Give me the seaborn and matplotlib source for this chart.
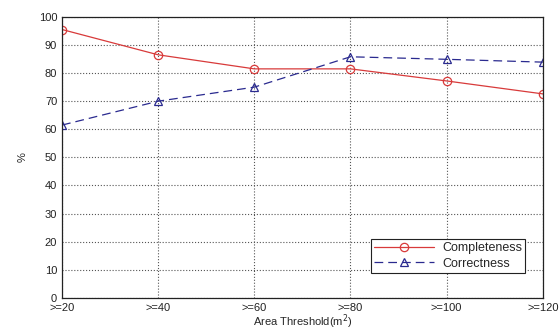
import numpy as np
import pandas as pd
import seaborn as sns
import matplotlib.pyplot as plt

categories = ['>=20', '>=40', '>=60', '>=80', '>=100', '>=120']
completeness = [95.5, 86.5, 81.5, 81.5, 77.2, 72.6]
correctness = [61.5, 70.0, 75.0, 85.8, 84.9, 83.9]

idx = list(range(len(categories)))

sns.set_style('white')
plt.rcParams['font.family'] = ['Liberation Sans', 'DejaVu Sans']

fig = plt.figure(figsize=(5.59, 3.31), dpi=100)
ax = fig.add_axes([0.111, 0.10, 0.86, 0.849])

red = '#d83a3a'
blue = '#2a2a8f'
sns.lineplot(x=idx, y=completeness, color=red, linewidth=0.9, label='Completeness', ax=ax)
sns.lineplot(x=idx, y=correctness, color=blue, linewidth=0.9, label='Correctness', ax=ax)

# MATLAB style open markers
l1, l2 = ax.lines[0], ax.lines[1]
l1.set_marker('o')
l2.set_marker('^')
l2.set_dashes((7, 4))
for ln, c in ((l1, red), (l2, blue)):
    ln.set_markersize(6)
    ln.set_markerfacecolor('none')
    ln.set_markeredgecolor(c)
    ln.set_markeredgewidth(0.9)

ax.set_xlim(0, len(categories) - 1)
ax.set_ylim(0, 100)
ax.set_xticks(idx)
ax.set_xticklabels(categories)
ax.set_yticks(range(0, 101, 10))
ax.tick_params(labelsize=8, direction='in', length=3, colors='#222222')
ax.grid(True, linestyle=':', color='#555555', linewidth=0.8)
for s in ax.spines.values():
    s.set_color('#222222')
    s.set_linewidth(0.9)

ax.set_xlabel('Area Threshold(m$^2$)', fontsize=8, labelpad=0)
ax.set_ylabel('%', fontsize=8, labelpad=8)

leg = ax.legend([l1, l2], ['Completeness', 'Correctness'], loc='lower right',
                fontsize=9, frameon=True, fancybox=False, edgecolor='#222222',
                framealpha=1, borderpad=0.25, handlelength=4.8, labelspacing=0.3,
                handletextpad=0.6, borderaxespad=0,
                bbox_to_anchor=(0.963, 0.089))
leg.get_frame().set_linewidth(0.8)

fig.savefig('out.png', dpi=100)
